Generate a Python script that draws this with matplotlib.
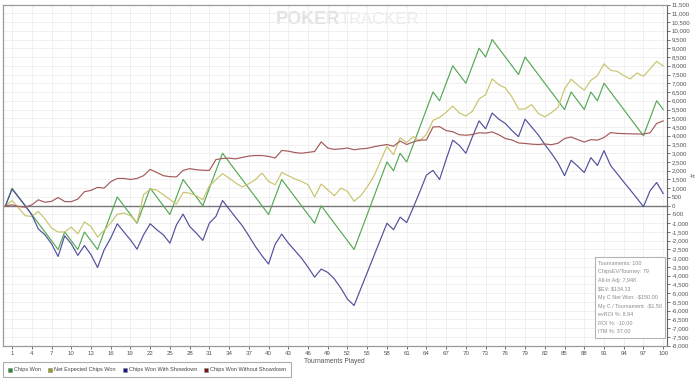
import matplotlib
matplotlib.use("Agg")
import matplotlib.pyplot as plt
from matplotlib.lines import Line2D
from matplotlib.patches import Rectangle
from matplotlib.ticker import FuncFormatter
import numpy as np

# ---- data (tournament 0..100) ----
tournaments = list(range(0, 101))

chips_won = [0, 1000, 500, 0, -500, -1000, -1500, -2000, -2500, -1500,
             -2000, -2500, -1500, -2000, -2500, -1500, -500, 500, 0, -500,
             -1000, 0, 1000, 500, 0, -500, 500, 1500, 1000, 500,
             0, 1000, 2000, 3000, 2500, 2000, 1500, 1000, 500, 0,
             -500, 500, 1500, 1000, 500, 0, -500, -1000, 0, -500,
             -1000, -1500, -2000, -2500, -1500, -500, 500, 1500, 2500, 2000,
             3000, 2500, 3500, 4500, 5500, 6500, 6000, 7000, 8000, 7500,
             7000, 8000, 9000, 8500, 9500, 9000, 8500, 8000, 7500, 8500,
             8000, 7500, 7000, 6500, 6000, 5500, 6500, 6000, 5500, 6500,
             6000, 7000, 6500, 6000, 5500, 5000, 4500, 4000, 5000, 6000,
             5500]

net_expected = [0, 300, -130, -570, -610, -330, -760, -1270, -1500, -1500,
                -1220, -1600, -930, -1180, -1790, -1410, -990, -480, -420, -570,
                -950, 630, 950, 900, 630, 360, 90, 760, 720, 570,
                340, 1140, 1490, 1830, 1580, 1300, 1070, 1260, 1490, 1870,
                1390, 1200, 1900, 1720, 1530, 1390, 1200, 500, 1240, 910,
                570, 1010, 820, 250, 570, 1070, 1680, 2540, 3390, 2920,
                3880, 3620, 3950, 3700, 4080, 4880, 5050, 5340, 5700, 5300,
                5130, 5400, 6100, 6350, 7250, 6920, 6730, 6220, 5530, 5530,
                5780, 5280, 5080, 5320, 5620, 6680, 7230, 6900, 6600, 7170,
                7440, 8110, 7740, 7680, 7440, 7250, 7590, 7400, 7820, 8250,
                7990]

with_showdown = [0, 950, 480, 0, -520, -1330, -1660, -2170, -2900, -1720,
                 -2170, -2840, -2270, -2800, -3530, -2520, -1850, -1030, -1500, -1950,
                 -2480, -1660, -1030, -1370, -1660, -2140, -1090, -480, -1180, -1560,
                 -1980, -990, -610, 300, -190, -670, -1140, -1720, -2330, -2860,
                 -3330, -2200, -1620, -2130, -2560, -2990, -3510, -4080, -3620, -3810,
                 -4180, -4710, -5340, -5700, -4760, -3820, -2880, -1940, -1000, -1370,
                 -650, -960, -100, 800, 1750, 2020, 1500, 2650, 3750, 3450,
                 3000, 3950, 4850, 4400, 5300, 4950, 4700, 4300, 3950, 4950,
                 4500, 4050, 3500, 3000, 2450, 1720, 2600, 2260, 1900, 2750,
                 2300, 3150, 2300, 1830, 1360, 900, 430, -50, 850, 1330,
                 700]

without_showdown = [0, 50, -40, -80, 50, 340, 200, 250, 470, 240,
                    230, 380, 800, 880, 1050, 1010, 1370, 1560, 1560, 1500,
                    1560, 1720, 2080, 1900, 1720, 1660, 1650, 2020, 2120, 2060,
                    2030, 2020, 2640, 2700, 2720, 2680, 2760, 2840, 2870, 2870,
                    2820, 2730, 3160, 3120, 3040, 3000, 3050, 3100, 3650, 3300,
                    3220, 3250, 3300, 3200, 3250, 3280, 3370, 3440, 3500, 3400,
                    3700, 3500, 3650, 3750, 3760, 4500, 4520, 4300, 4230, 4060,
                    4030, 4070, 4170, 4150, 4220, 4060, 3840, 3760, 3590, 3560,
                    3520, 3500, 3530, 3490, 3570, 3840, 3930, 3780, 3640, 3780,
                    3750, 3900, 4180, 4140, 4120, 4110, 4100, 4100, 4170, 4700,
                    4850]

x_ticks = list(range(1, 98, 3)) + [100]
y_ticks = list(range(-8000, 11501, 500))

stats_lines = ["Tournaments: 100", "ChipsEV/Tourney: 79", "All-In Adj: 7,948",
               "$EV: $134.13", "My C Net Won: -$150.00", "My C / Tournament: -$1.50",
               "evROI %: 8.94", "ROI %: -10.00", "ITM %: 37.00"]

series = [
    ("Chips Won", chips_won, "#55a855", "#2e8b2e"),
    ("Net Expected Chips Won", net_expected, "#c9c46c", "#9a9a1e"),
    ("Chips Won With Showdown", with_showdown, "#50509c", "#12128a"),
    ("Chips Won Without Showdown", without_showdown, "#a45a5a", "#7a1010"),
]

plt.rcParams['font.family'] = ['Liberation Sans', 'DejaVu Sans']
fig = plt.figure(figsize=(7, 3.84), dpi=100)
ax = fig.add_axes([0.0036, 0.0997, 0.949, 0.8885])

for label, vals, col, _ in series:
    ax.plot(tournaments, vals, color=col, lw=0.85, zorder=3)

ax.axhline(0, color="#777777", lw=1.0, zorder=2)

ax.set_xlim(-0.45, 100.55)
ax.set_ylim(-8000, 11500)
ax.set_xticks(x_ticks)
ax.set_yticks(y_ticks)
ax.yaxis.tick_right()
ax.yaxis.set_label_position("right")
ax.yaxis.set_major_formatter(FuncFormatter(lambda v, p: f"{int(v):,}"))
ax.tick_params(axis="both", labelsize=4.4, colors="#555555", length=2, width=0.6, pad=1.5)
ax.grid(True, color="#eeeeee", lw=0.6, zorder=0)

for side in ["left", "top", "bottom"]:
    ax.spines[side].set_color("#9a9a9a")
    ax.spines[side].set_linewidth(0.9)
ax.spines["right"].set_color("#666666")
ax.spines["right"].set_linewidth(0.8)

ax.set_xlabel("Tournaments Played", fontsize=4.8, color="#555555", labelpad=2)
ax.set_ylabel("#", fontsize=5, color="#555555", rotation=90, labelpad=0.5)

# watermark
ax.text(0.508, 0.955, "POKER", transform=ax.transAxes, fontsize=13, fontweight="bold",
        color="#e2e2e2", ha="right", va="center", zorder=1)
ax.text(0.508, 0.955, "TRACKER", transform=ax.transAxes, fontsize=12,
        color="#ececec", ha="left", va="center", zorder=1)

# stats box
ax.add_patch(Rectangle((0.892, 0.022), 0.105, 0.238, transform=ax.transAxes,
                       facecolor="white", edgecolor="#b5b5b5", lw=0.8, zorder=4))
for i, line in enumerate(stats_lines):
    ax.text(0.896, 0.2424 - i * 0.0252, line, transform=ax.transAxes, fontsize=3.9,
            color="#8a8a8a", ha="left", va="center", zorder=5, parse_math=False)

handles = [Line2D([], [], lw=0, marker="s", markersize=3.0, markerfacecolor=mc,
                  markeredgecolor="#888888", markeredgewidth=0.4)
           for _, _, _, mc in series]
leg = fig.legend(handles, [s[0] for s in series], loc="lower left",
                 bbox_to_anchor=(0.004, 0.017), ncol=4, fontsize=4.0, frameon=True,
                 fancybox=False, edgecolor="#999999", handlelength=0.8, handletextpad=0.35,
                 columnspacing=1.2, borderpad=0.9, borderaxespad=0)
for t in leg.get_texts():
    t.set_color("#444444")
leg.get_frame().set_linewidth(0.8)

fig.savefig("out.png", dpi=100)
